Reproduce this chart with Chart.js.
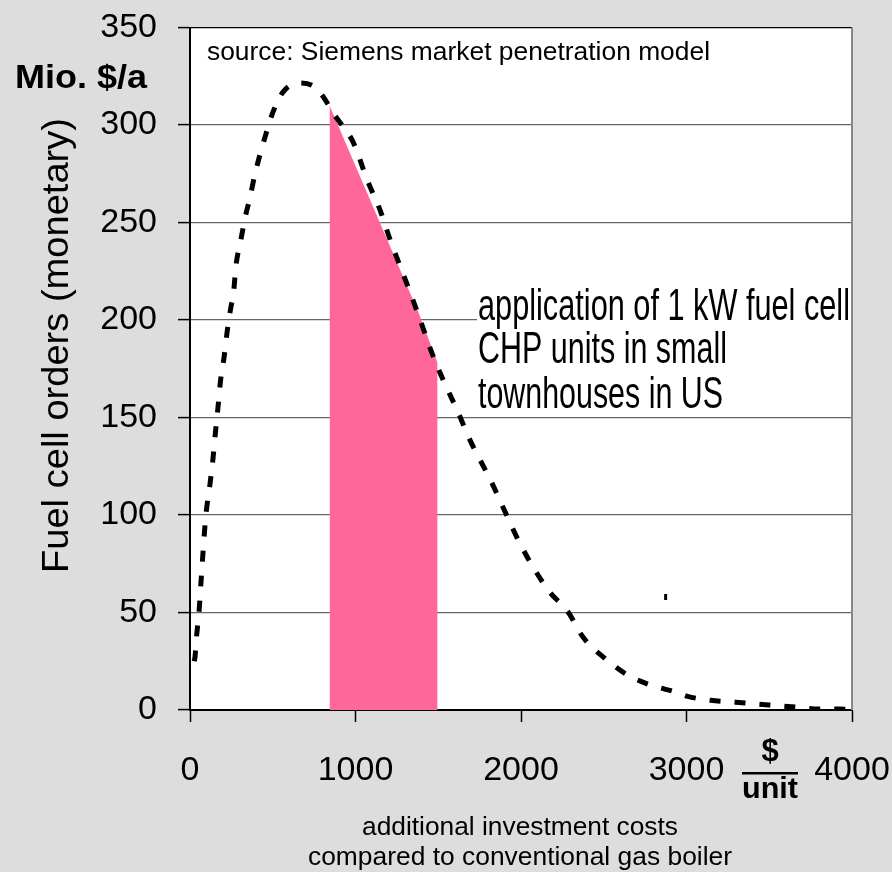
<!DOCTYPE html>
<html>
<head>
<meta charset="utf-8">
<script src="https://cdn.jsdelivr.net/npm/chart.js@4.4.1/dist/chart.umd.min.js"></script>
<style>
  html, body { margin: 0; padding: 0; background: #dddddd; }
  canvas { display: block; }
</style>
</head>
<body>
<canvas id="chart" width="892" height="872"></canvas>
<script>
// ===== Data =====
const costX = [25, 30, 40, 56, 66, 95, 121, 139, 151, 170, 186, 206, 226, 248, 262, 278, 307, 337, 359, 393, 454, 503, 563, 653, 744, 805, 866, 987, 1070, 1150, 1210, 1331, 1391, 1462, 1531, 1613, 1694, 1815, 1996, 2097, 2178, 2279, 2378, 2499, 2643, 2783, 2934, 3007, 3146, 3297, 3497, 3660, 3800, 3920, 4010];
const orders = [25, 27, 38, 52, 65, 99, 116, 129, 140, 156, 170, 181, 195, 207, 213, 228, 241, 254, 261.5, 275, 294, 307, 317, 321.5, 320, 314.5, 306, 291, 272, 256, 241, 214, 200, 183, 169, 154, 138, 118, 85, 70, 60, 51, 37, 27, 18, 12.8, 9.2, 7, 5, 4, 2.6, 1.5, 0.5, 0.5, 0];

// shaded cost range (pink area)
const shadeX = [843, 1380, 1496];
const shadeY = [310, 204, 178];

// lone dash in the original picture
const strayX = [2874];
const strayY = [58];

const xTicks = [0, 1000, 2000, 3000, 4000];
const yTicks = [0, 50, 100, 150, 200, 250, 300, 350];

const yTitle = "Fuel cell orders (monetary)";
const yUnit = "Mio. $/a";
const sourceNote = "source: Siemens market penetration model";
const noteLines = ["application of 1 kW fuel cell", "CHP units in small", "townhouses in US"];
const xTitleLines = ["additional investment costs", "compared to conventional gas boiler"];

const FONT = "'Liberation Sans', Arial, sans-serif";
Chart.defaults.font.family = FONT;
Chart.defaults.color = "#000";

// draw text squeezed/stretched to a given width
function fitText(ctx, txt, x, y, w, align) {
  const m = ctx.measureText(txt).width;
  ctx.save();
  ctx.translate(x, y);
  ctx.scale(w / m, 1);
  ctx.textAlign = align || "left";
  ctx.fillText(txt, 0, 0);
  ctx.restore();
}

// ===== Decorations =====
const decorPlugin = {
  id: "decor",
  beforeDraw(chart) {
    const { ctx, chartArea: a } = chart;
    ctx.save();
    ctx.fillStyle = "#dddddd";
    ctx.fillRect(0, 0, chart.width, chart.height);
    ctx.fillStyle = "#fff";
    ctx.fillRect(a.left, a.top, a.right - a.left, a.bottom - a.top);
    ctx.restore();
  },
  beforeDatasetsDraw(chart) {
    const { ctx } = chart;
    ctx.save();
    // text box of the note
    ctx.fillStyle = "#fff";
    ctx.fillRect(477, 290, 374, 126);
    ctx.fillStyle = "#000";
    ctx.textBaseline = "alphabetic";
    ctx.font = "44px " + FONT;
    fitText(ctx, noteLines[0], 478, 320, 372);
    fitText(ctx, noteLines[1], 478, 363, 249);
    fitText(ctx, noteLines[2], 478, 408, 245);
    ctx.font = "26px " + FONT;
    fitText(ctx, sourceNote, 207, 60, 503);
    ctx.restore();
  },
  afterDraw(chart) {
    const { ctx, chartArea: a } = chart;
    ctx.save();
    // right frame
    ctx.strokeStyle = "#888";
    ctx.lineWidth = 2;
    ctx.beginPath();
    ctx.moveTo(a.right, a.top);
    ctx.lineTo(a.right, a.bottom);
    ctx.stroke();

    ctx.fillStyle = "#000";
    ctx.textBaseline = "alphabetic";
    ctx.font = "bold 33px " + FONT;
    fitText(ctx, yUnit, 15, 88, 132);

    ctx.save();
    ctx.translate(68, 573);
    ctx.rotate(-Math.PI / 2);
    ctx.font = "37px " + FONT;
    fitText(ctx, yTitle, 0, 0, 455);
    ctx.restore();

    ctx.font = "26px " + FONT;
    fitText(ctx, xTitleLines[0], 520, 835, 316, "center");
    fitText(ctx, xTitleLines[1], 520, 865, 424, "center");

    // $/unit fraction
    ctx.font = "bold 31px " + FONT;
    ctx.textAlign = "center";
    ctx.fillText("$", 770, 761);
    ctx.fillRect(742, 772, 56, 2.5);
    ctx.font = "bold 30px " + FONT;
    fitText(ctx, "unit", 770, 798, 56, "center");
    ctx.restore();
  }
};

// ===== Chart =====
const ctx = document.getElementById("chart").getContext("2d");
new Chart(ctx, {
  type: "line",
  data: {
    datasets: [
      {
        label: "orders",
        data: costX.map((x, i) => ({ x, y: orders[i] })),
        borderColor: "#000",
        borderWidth: 5,
        borderDash: [11, 14],
        borderCapStyle: "butt",
        cubicInterpolationMode: "monotone",
        pointRadius: 0,
        fill: false,
        order: 1
      },
      {
        label: "range",
        data: shadeX.map((x, i) => ({ x, y: shadeY[i] })),
        borderWidth: 0,
        borderColor: "rgba(0,0,0,0)",
        backgroundColor: "#ff6699",
        pointRadius: 0,
        fill: "origin",
        order: 2
      },
      {
        label: "stray",
        data: strayX.map((x, i) => ({ x, y: strayY[i] })),
        showLine: false,
        pointStyle: "line",
        rotation: 90,
        pointRadius: 3,
        borderColor: "#000",
        borderWidth: 3,
        order: 0
      }
    ]
  },
  options: {
    responsive: false,
    animation: false,
    layout: { padding: { left: 0, right: 40, top: 27.5, bottom: 0 } },
    plugins: {
      legend: { display: false },
      tooltip: { enabled: false }
    },
    scales: {
      x: {
        type: "linear",
        min: 0,
        max: 4000,
        afterBuildTicks: s => { s.ticks = xTicks.map(v => ({ value: v })); },
        afterFit: s => {
          s.height = 162;
          s.paddingLeft = 0;
          s.paddingRight = 0;
        },
        ticks: { font: { size: 34 }, color: "#000", padding: 28, maxRotation: 0, callback: v => String(v) },
        grid: { drawOnChartArea: false, tickLength: 12, tickColor: "#000", tickWidth: 1.5 },
        border: { color: "#000", width: 2 }
      },
      y: {
        min: 0,
        max: 350,
        afterBuildTicks: s => { s.ticks = yTicks.map(v => ({ value: v })); },
        afterFit: s => {
          s.width = 190;
          s.paddingTop = 0;
          s.paddingBottom = 0;
        },
        ticks: { font: { size: 34 }, color: "#000", padding: 21, callback: v => String(v) },
        grid: {
          color: c => (c.tick && c.tick.value === 350 ? "#000" : "#666"),
          lineWidth: 1.2,
          tickLength: 12,
          tickColor: "#000",
          tickWidth: 1.5
        },
        border: { color: "#000", width: 2 }
      }
    }
  },
  plugins: [decorPlugin]
});
</script>
</body>
</html>
